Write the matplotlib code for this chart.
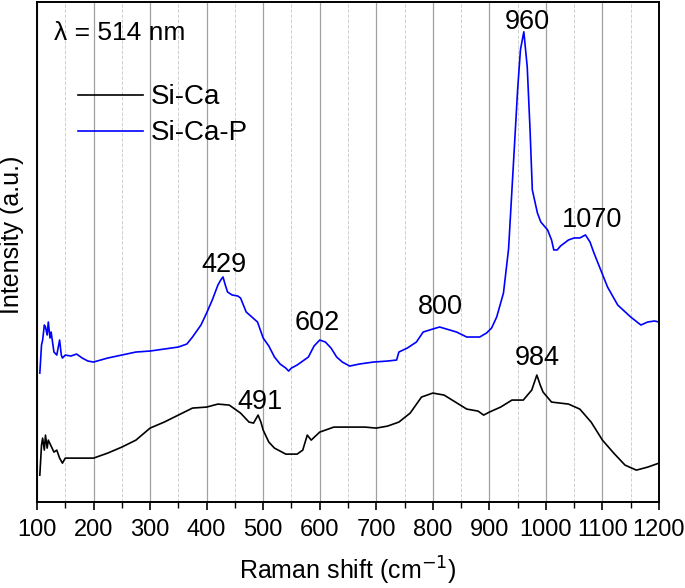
import matplotlib
matplotlib.use('Agg')
import matplotlib.pyplot as plt
from matplotlib.ticker import MultipleLocator

plt.rcParams['font.family'] = ['Liberation Sans', 'DejaVu Sans']

# Si-Ca-P spectrum (offset intensity in a.u.)
shift_p = [105, 108, 110, 113, 115, 118, 120, 123, 125, 130, 135, 140, 143, 145, 150,
           160, 170, 180, 190, 200, 225, 250, 275, 300, 325, 350, 365, 375, 390, 400,
           410, 420, 425, 429, 433, 437, 445, 455, 460, 470, 480, 490, 500, 510, 520,
           530, 540, 545, 550, 560, 570, 580, 590, 600, 610, 620, 630, 640, 653, 670,
           695, 720, 736, 740, 755, 771, 783, 800, 812, 830, 842, 860, 883, 895, 904,
           913, 925, 934, 943, 950, 955, 961, 967, 972, 976, 985, 991, 1003, 1010, 1014,
           1020, 1026, 1040, 1050, 1060, 1070, 1078, 1085, 1097, 1109, 1127, 1150, 1168,
           1180, 1192, 1200]
int_p = [129, 157, 162, 177, 175, 167, 180, 164, 170, 150, 147, 162, 147, 144, 147,
         146, 148, 144, 141, 140, 144, 147, 150, 151, 153, 155, 158, 165, 177, 189,
         202, 217, 222, 225, 217, 210, 207, 206, 204, 190, 185, 180, 164, 156, 145,
         138, 134, 131, 134, 137, 141, 145, 156, 162, 160, 154, 145, 140, 136, 138,
         140, 141, 142, 150, 154, 160, 170, 173, 175, 172, 170, 165, 165, 169, 174,
         185, 209, 253, 342, 412, 452, 470, 435, 372, 312, 289, 280, 272, 262, 252,
         252, 256, 262, 264, 264, 267, 260, 249, 232, 215, 197, 185, 177,
         180, 181, 180]

# Si-Ca spectrum
shift_c = [105, 108, 110, 113, 115, 118, 120, 125, 130, 135, 140, 145, 150, 175, 200,
           225, 250, 275, 300, 325, 350, 375, 400, 420, 440, 460, 475, 483, 488, 491,
           496, 500, 510, 520, 540, 560, 570, 578, 585, 600, 625, 650, 680, 700, 720,
           740, 760, 780, 800, 820, 840, 860, 880, 890, 900, 920, 940, 960, 975, 984,
           990, 995, 1010, 1040, 1060, 1080, 1100, 1120, 1140, 1160, 1180, 1200]
int_c = [27, 57, 64, 52, 67, 54, 62, 56, 50, 52, 44, 39, 44, 44, 44,
         49, 55, 62, 74, 80, 87, 94, 95, 98, 97, 89, 80, 79, 84, 87,
         80, 72, 60, 54, 48, 48, 52, 67, 62, 70, 75, 75, 75, 74, 76,
         80, 89, 105, 109, 107, 100, 93, 91, 87, 90, 95, 102, 102, 112, 127,
         117, 110, 100, 98, 93, 80, 62, 49, 37, 32, 35, 39]

peak_labels = ['960', '1070', '429', '602', '800', '491', '984']
peak_x = [968, 1081, 431, 595, 813, 494, 984]
peak_y = [480, 282, 237, 179, 195, 100, 144]

fig = plt.figure(figsize=(6.85, 5.88), dpi=100)
ax = fig.add_axes([0.054, 0.146, 0.908, 0.851])

ax.plot(shift_c, int_c, color='black', lw=1.2, label='Si-Ca')
ax.plot(shift_p, int_p, color='#0000ff', lw=1.2, label='Si-Ca-P')

ax.set_xlim(100, 1200)
ax.set_ylim(0, 500)
ax.xaxis.set_major_locator(MultipleLocator(100))
ax.xaxis.set_minor_locator(MultipleLocator(50))
ax.set_yticks([])

ax.grid(True, axis='x', which='major', color='#a0a0a0', lw=0.9)
ax.grid(True, axis='x', which='minor', color='#d0d0d0', lw=0.7, ls='--')
ax.set_axisbelow(True)

ax.tick_params(axis='x', which='major', direction='out', length=6, width=1.2,
               labelsize=17, pad=6)
ax.tick_params(axis='x', which='minor', direction='out', length=4, width=1.0)
for s in ax.spines.values():
    s.set_linewidth(1.4)

ax.set_xlabel('Raman shift (cm$^{-1}$)', fontsize=18, labelpad=10)
ax.set_ylabel('Intensity (a.u.)', fontsize=18)
ax.yaxis.set_label_coords(-0.021, 0.534)

for lab, px, py in zip(peak_labels, peak_x, peak_y):
    ax.text(px, py, lab, fontsize=19.5, ha='center', va='center')

ax.text(130, 469, 'λ = 514 nm', fontsize=19, ha='left', va='center')

ax.legend(loc='upper left', bbox_to_anchor=(0.026, 0.885), frameon=False,
          fontsize=20, handlelength=2.35, handletextpad=0.25, labelspacing=0.36)

fig.savefig('out.png', dpi=100)
